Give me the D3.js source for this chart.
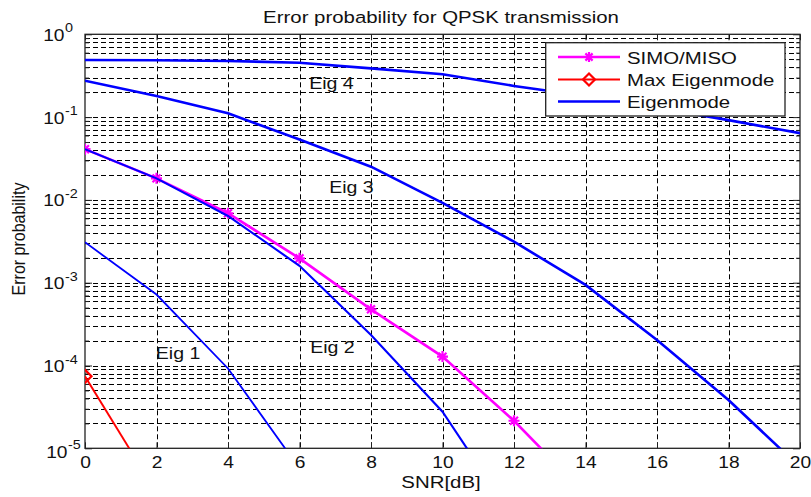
<!DOCTYPE html>
<html>
<head>
<meta charset="utf-8">
<script src="https://cdn.jsdelivr.net/npm/d3@7"></script>
<style>
  body { margin: 0; background: #fff; }
  svg { display: block; font-family: "Liberation Sans", Arial, sans-serif; }
</style>
</head>
<body>
<svg id="chart" width="811" height="497"></svg>
<script>
// SNR points (dB) - every curve starts at 0 and uses a prefix of this list
const snr = [0, 2, 4, 6, 8, 10, 12, 14, 16, 18, 20]
const simoMiso = [0.041, 0.0182, 0.0069, 0.00197, 0.000477, 0.000128, 0.0000215, 0.0000028]
const maxEigen = [0.000074, 0.0000029]
const eig1 = [0.00308, 0.00072, 0.000092, 0.0000057]
const eig2 = [0.041, 0.0182, 0.0064, 0.0016, 0.000234, 0.0000277, 0.0000014]
const eig3 = [0.275, 0.18, 0.111, 0.0537, 0.0252, 0.0092, 0.00313, 0.00094, 0.000203, 0.0000383, 0.0000059]
const eig4 = [0.49, 0.485, 0.476, 0.454, 0.388, 0.329, 0.238, 0.18, 0.13, 0.092, 0.064]

const eigLabels = ["Eig 1", "Eig 2", "Eig 3", "Eig 4"]
const eigLabelX = [1.98, 6.3, 6.83, 6.27]
const eigLabelY = [0.000119, 0.00014, 0.012, 0.217]

const legendNames = ["SIMO/MISO", "Max Eigenmode", "Eigenmode"]
const xTicks = [0, 2, 4, 6, 8, 10, 12, 14, 16, 18, 20]
const yDecades = [0, -1, -2, -3, -4, -5]

const svg = d3.select("#chart")
const stretch = 1.2   // the source image is a bit wider than tall, so text gets widened
const plotLeft = 85, plotRight = 800, plotTop = 34.3, plotBottom = 448.3

const x = d3.scaleLinear().domain([0, 20]).range([plotLeft, plotRight])
const y = d3.scaleLog().domain([1e-5, 1]).range([plotBottom, plotTop])

const toPoints = vals => vals.map((v, i) => [snr[i], v])
const line = d3.line().x(d => x(d[0])).y(d => y(d[1]))

svg.append("text")
  .attr("transform", `translate(441,23.3) scale(${stretch},1)`)
  .attr("text-anchor", "middle")
  .attr("font-size", 17)
  .attr("fill", "#111")
  .text("Error probability for QPSK transmission")

// grid - dashed, every log subdivision plus the x ticks
const grid = svg.append("g")
  .attr("stroke", "#000")
  .attr("stroke-width", 1)
  .attr("stroke-dasharray", "5,3")
  .attr("fill", "none")
grid.selectAll(".hg")
  .data(y.ticks().filter(t => t < 0.999 && t > 1.001e-5))
  .join("line")
  .attr("x1", plotLeft).attr("x2", plotRight)
  .attr("y1", d => Math.round(y(d)) + 0.5).attr("y2", d => Math.round(y(d)) + 0.5)
grid.selectAll(".vg")
  .data(xTicks.slice(1, -1))
  .join("line")
  .attr("x1", d => Math.round(x(d)) + 0.5).attr("x2", d => Math.round(x(d)) + 0.5)
  .attr("y1", plotTop).attr("y2", plotBottom)

// inward ticks on all four sides
const xAxis = svg.append("g")
  .attr("transform", `translate(0,${plotBottom})`)
  .call(d3.axisBottom(x).tickValues(xTicks).tickSizeInner(-6).tickSizeOuter(0).tickPadding(8))
xAxis.selectAll("text")
  .attr("font-size", 16)
  .attr("font-family", "Liberation Sans, Arial, sans-serif")
  .attr("fill", "#111")
  .attr("transform", `scale(${stretch},1)`)
svg.append("g")
  .attr("transform", `translate(0,${plotTop})`)
  .call(d3.axisTop(x).tickValues(xTicks).tickSizeInner(-6).tickSizeOuter(0).tickFormat(""))

const majorY = yDecades.map(k => Math.pow(10, k))
const minorY = y.ticks().filter(t => !majorY.some(m => Math.abs(m - t) / m < 1e-6))
svg.append("g").attr("transform", `translate(${plotLeft},0)`)
  .call(d3.axisLeft(y).tickValues(majorY).tickSizeInner(-7).tickSizeOuter(0).tickFormat(""))
svg.append("g").attr("transform", `translate(${plotLeft},0)`)
  .call(d3.axisLeft(y).tickValues(minorY).tickSizeInner(-4).tickSizeOuter(0).tickFormat(""))
svg.append("g").attr("transform", `translate(${plotRight},0)`)
  .call(d3.axisRight(y).tickValues(majorY).tickSizeInner(-7).tickSizeOuter(0).tickFormat(""))
svg.append("g").attr("transform", `translate(${plotRight},0)`)
  .call(d3.axisRight(y).tickValues(minorY).tickSizeInner(-4).tickSizeOuter(0).tickFormat(""))
svg.selectAll(".domain").remove()
svg.selectAll(".tick line").attr("stroke", "#222")

svg.append("rect")
  .attr("x", plotLeft).attr("y", plotTop)
  .attr("width", plotRight - plotLeft).attr("height", plotBottom - plotTop)
  .attr("fill", "none").attr("stroke", "#222").attr("stroke-width", 1.3)

// y tick labels as 10^k
yDecades.forEach(k => {
  const yy = y(Math.pow(10, k))
  const shift = k === -5 ? 3 : 0
  svg.append("text")
    .attr("transform", `translate(${64.5 + shift},${yy + 6.4 + shift}) scale(${stretch},1)`)
    .attr("text-anchor", "end")
    .attr("font-size", 16)
    .attr("fill", "#111")
    .text("10")
  svg.append("text")
    .attr("transform", `translate(${65 + shift},${yy - 2 + shift}) scale(${stretch},1)`)
    .attr("font-size", 12)
    .attr("fill", "#111")
    .text(k === 0 ? "0" : "-" + (-k))
})

svg.append("text")
  .attr("transform", `translate(441,488) scale(${stretch},1)`)
  .attr("text-anchor", "middle")
  .attr("font-size", 17)
  .attr("fill", "#111")
  .text("SNR[dB]")

svg.append("text")
  .attr("transform", `translate(25,239) scale(${stretch},1) rotate(-90)`)
  .attr("text-anchor", "middle")
  .attr("font-size", 16)
  .attr("fill", "#111")
  .text("Error probability")

// curves
svg.append("clipPath").attr("id", "plotClip")
  .append("rect")
  .attr("x", plotLeft).attr("y", plotTop - 8)
  .attr("width", plotRight - plotLeft).attr("height", plotBottom - plotTop + 8)

const curves = svg.append("g").attr("clip-path", "url(#plotClip)")

function drawStar(g, cx, cy, r, color) {
  const d = r * 0.72
  g.append("path")
    .attr("d", `M${cx - r},${cy}L${cx + r},${cy}M${cx},${cy - r}L${cx},${cy + r}` +
      `M${cx - d},${cy - d}L${cx + d},${cy + d}M${cx - d},${cy + d}L${cx + d},${cy - d}`)
    .attr("stroke", color).attr("stroke-width", 2.2).attr("fill", "none")
}
function drawDiamond(g, cx, cy, r, color) {
  g.append("path")
    .attr("d", `M${cx},${cy - r}L${cx + r},${cy}L${cx},${cy + r}L${cx - r},${cy}Z`)
    .attr("stroke", color).attr("stroke-width", 2.2).attr("fill", "none")
}

curves.append("path")
  .attr("d", line(toPoints(simoMiso)))
  .attr("fill", "none").attr("stroke", "#ff00ff").attr("stroke-width", 2.6)
toPoints(simoMiso).forEach(p => drawStar(curves, x(p[0]), y(p[1]), 5.5, "#ff00ff"))

curves.append("path")
  .attr("d", line(toPoints(maxEigen)))
  .attr("fill", "none").attr("stroke", "#ff0000").attr("stroke-width", 1.9)
toPoints(maxEigen).forEach(p => drawDiamond(curves, x(p[0]), y(p[1]), 6.5, "#ff0000"))

const eigSeries = [eig1, eig2, eig3, eig4]
const eigWidths = [1.8, 2.1, 2.6, 2.6]
eigSeries.forEach((s, i) => {
  curves.append("path")
    .attr("d", line(toPoints(s)))
    .attr("fill", "none").attr("stroke", "#0000ff").attr("stroke-width", eigWidths[i])
})

eigLabels.forEach((t, i) => {
  svg.append("text")
    .attr("transform", `translate(${x(eigLabelX[i])},${y(eigLabelY[i])}) scale(1.15,1)`)
    .attr("font-size", 17)
    .attr("fill", "#111")
    .text(t)
})

// legend
const legend = svg.append("g")
legend.append("rect")
  .attr("x", 545.7).attr("y", 42.7).attr("width", 239.3).attr("height", 73.3)
  .attr("fill", "#fff").attr("stroke", "#222").attr("stroke-width", 1.3)
const legendColors = ["#ff00ff", "#ff0000", "#0000ff"]
const legendRows = [57, 79.5, 101.5]
legendNames.forEach((name, i) => {
  const ly = legendRows[i]
  legend.append("line")
    .attr("x1", 558).attr("x2", 620).attr("y1", ly).attr("y2", ly)
    .attr("stroke", legendColors[i]).attr("stroke-width", i === 1 ? 1.9 : 2.6)
  if (i === 0) drawStar(legend, 589, ly, 5, legendColors[i])
  if (i === 1) drawDiamond(legend, 589, ly, 6, legendColors[i])
  legend.append("text")
    .attr("transform", `translate(627,${ly + 6.5}) scale(${stretch},1)`)
    .attr("font-size", 17)
    .attr("fill", "#111")
    .text(name)
})
</script>
</body>
</html>
